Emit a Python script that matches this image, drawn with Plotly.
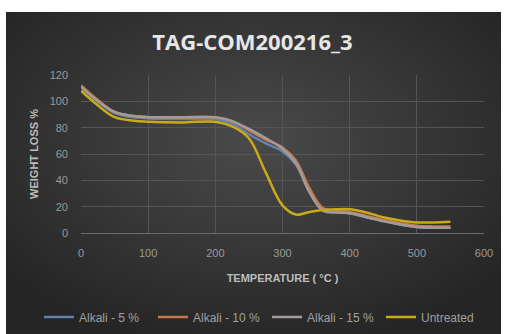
import plotly.graph_objects as go
import urllib.parse

# Temperature (°C)
temp = [0, 25, 50, 75, 100, 150, 200, 225, 250, 275, 300, 320, 340, 360, 380, 400, 425, 450, 475, 500, 525, 550]

alkali_5 = [111, 100, 91, 88, 87, 86.5, 86.5, 83, 75, 68, 62, 52, 32, 18, 16, 15, 12, 9, 6.5, 4.5, 4, 4]
alkali_10 = [112, 101, 92, 89, 88, 87.5, 87.5, 85, 78, 71, 65, 55, 34, 19, 17, 16, 13, 10, 7.5, 5.5, 5, 5]
alkali_15 = [111, 100, 92, 89, 88, 88, 88, 85, 79, 72, 64, 53, 31, 17, 15.5, 15, 12, 9, 6.5, 4.5, 4, 4]
untreated = [108, 97, 88, 85.5, 84.5, 84, 84.5, 81, 72, 46, 21, 14, 16, 17.5, 18, 18, 15.5, 12, 9.5, 8, 8, 8.5]

series = [
    ("Alkali - 5 %", alkali_5, "#6282ab"),
    ("Alkali - 10 %", alkali_10, "#c47a4c"),
    ("Alkali - 15 %", alkali_15, "#a39a9a"),
    ("Untreated", untreated, "#c9ab1a"),
]

x_ticks = [0, 100, 200, 300, 400, 500, 600]
y_ticks = [0, 20, 40, 60, 80, 100, 120]

fig = go.Figure()
for name, vals, col in series:
    fig.add_trace(go.Scatter(
        x=temp, y=vals, mode="lines", name=name,
        line=dict(color=col, width=2.5, shape="spline", smoothing=1.0),
    ))

svg = ('<svg xmlns="http://www.w3.org/2000/svg" width="495" height="322" viewBox="0 0 495 322">'
       '<defs><radialGradient id="g" cx="50%" cy="40%" r="65%">'
       '<stop offset="0%" stop-color="#4a4a4a"/><stop offset="100%" stop-color="#252525"/>'
       '</radialGradient></defs><rect width="495" height="322" fill="url(#g)"/></svg>')
src = "data:image/svg+xml;charset=utf-8," + urllib.parse.quote(svg)

L, R, T, B = 81, 21, 75, 101
W, H = 505, 334
pw, ph = W - L - R, H - T - B

def px2x(px):
    return (px - L) / pw

def py2y(py):
    return (H - B - py) / ph

fig.add_layout_image(dict(
    source=src, xref="paper", yref="paper",
    x=px2x(6), y=py2y(12), sizex=(501 - 6) / pw, sizey=(334 - 12) / ph,
    xanchor="left", yanchor="top", sizing="stretch", layer="below",
))

FAM = "Liberation Sans, Arial, sans-serif"
axis_font = dict(family=FAM, size=11, color="#9a9a9a")
title_font = dict(family=FAM, size=11, color="#bdbdbd")

fig.update_layout(
    width=W, height=H,
    margin=dict(l=L, r=R, t=T, b=B, autoexpand=False),
    paper_bgcolor="white",
    plot_bgcolor="rgba(0,0,0,0)",
    title=dict(text="<b>TAG-COM200216_3</b>", x=0.5, xref="container", xanchor="center",
               y=1 - 42 / H, yanchor="middle", yref="container",
               font=dict(family="Open Sans, sans-serif", size=22, color="#e6e6e6")),
    xaxis=dict(range=[0, 600], tickvals=x_ticks, showgrid=True, gridcolor="#555555", gridwidth=1,
               zeroline=False, showline=True, linecolor="#6a6a6a", linewidth=1,
               tickfont=axis_font, ticks="", ticklabelstandoff=10, automargin=False,
               title=dict(text="<b>TEMPERATURE ( °C )</b>", standoff=16, font=title_font)),
    yaxis=dict(range=[0, 120], tickvals=y_ticks, showgrid=True, gridcolor="#555555", gridwidth=1,
               zeroline=False, showline=False, tickfont=axis_font, ticks="", ticklabelstandoff=12,
               automargin=False,
               title=dict(text="<b>WEIGHT LOSS %</b>", standoff=8, font=title_font)),
    legend=dict(orientation="h", x=px2x(39), xanchor="left", y=py2y(317), yanchor="middle",
                font=dict(family=FAM, size=12, color="#a0a0a0"),
                bgcolor="rgba(0,0,0,0)", itemwidth=30, tracegroupgap=0,
                entrywidth=69, entrywidthmode="pixels"),
    showlegend=True,
)

fig.write_html("out.html")
